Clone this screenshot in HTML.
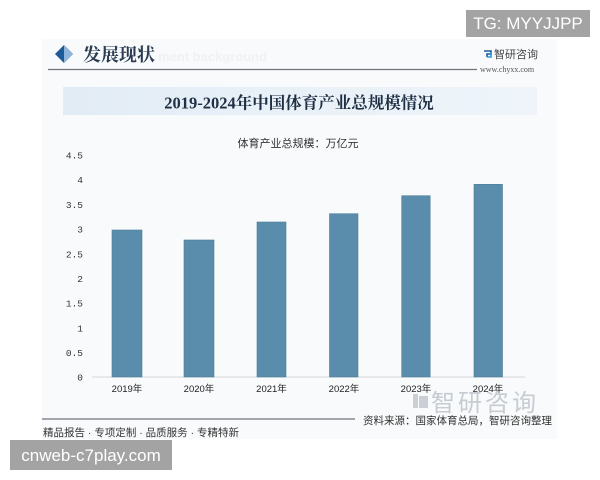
<!DOCTYPE html>
<html><head><meta charset="utf-8"><style>
html,body{margin:0;padding:0;background:#fff;}
body{width:600px;height:480px;overflow:hidden;position:relative;}
svg{position:absolute;left:0;top:0;}
</style></head><body>
<svg width="600" height="480" viewBox="0 0 600 480" xmlns="http://www.w3.org/2000/svg">
<defs>
<linearGradient id="bn" x1="0" x2="1" y1="0" y2="0">
<stop offset="0" stop-color="#e2ecf5"/><stop offset="0.5" stop-color="#e9f1f8"/><stop offset="1" stop-color="#eef4fa"/>
</linearGradient>
</defs>
<rect x="0" y="0" width="600" height="480" fill="#ffffff"/>
<!-- card -->
<rect x="42" y="39" width="515" height="400" fill="#f8fafb"/>
<!-- TG box -->
<rect x="466" y="10" width="124" height="27" fill="#a3a3a3"/>
<text x="528" y="29" font-family="Liberation Sans, sans-serif" font-size="17" fill="#ffffff" text-anchor="middle">TG: MYYJJPP</text>
<!-- header -->
<polygon points="64,45 73,54 64,63 55,54" fill="#1f5b98"/>
<polygon points="64,45 73,54 64,63" fill="#8fb6da"/>
<text x="83" y="61" font-family="Liberation Serif, 'Noto Serif CJK SC', serif" font-size="18" font-weight="bold" fill="#2b3c52">发展现状</text>
<text x="158" y="61" font-family="Liberation Sans, sans-serif" font-size="13" font-weight="bold" fill="#eff2f5">ment background</text>
<line x1="48" y1="69.5" x2="477" y2="69.5" stroke="#6f757c" stroke-width="1.2"/>
<!-- logo -->
<path d="M484 51 h7 v3 h-4 v3" fill="none" stroke="#1f5b98" stroke-width="1.6"/>
<path d="M491 52 v5 h-4" fill="none" stroke="#2a9ad6" stroke-width="1.6"/>
<text x="494" y="58" font-family="Liberation Sans, 'Noto Sans CJK SC', sans-serif" font-size="11" fill="#444">智研咨询</text>
<text x="480" y="72" font-family="Liberation Serif, serif" font-size="8" fill="#555">www.chyxx.com</text>
<!-- banner -->
<rect x="63" y="87" width="474" height="28" fill="url(#bn)"/>
<text x="299" y="108.5" font-family="Liberation Serif, 'Noto Serif CJK SC', serif" font-size="16.5" font-weight="bold" fill="#1f2f44" text-anchor="middle">2019-2024年中国体育产业总规模情况</text>
<text x="298" y="147" font-family="Liberation Sans, 'Noto Sans CJK SC', sans-serif" font-size="11" fill="#333" text-anchor="middle">体育产业总规模：万亿元</text>
<!-- y labels -->
<g font-family="Liberation Mono, monospace" font-size="9.5" fill="#333" text-anchor="end">
<text x="83" y="158.5">4.5</text>
<text x="83" y="183">4</text>
<text x="83" y="208">3.5</text>
<text x="83" y="232.5">3</text>
<text x="83" y="257.5">2.5</text>
<text x="83" y="282">2</text>
<text x="83" y="306.5">1.5</text>
<text x="83" y="331.5">1</text>
<text x="83" y="356">0.5</text>
<text x="83" y="380.5">0</text>
</g>
<!-- axis -->
<line x1="92" y1="377" x2="525" y2="377" stroke="#d4d6d8" stroke-width="1"/>
<!-- bars -->
<g fill="#5a8dab" stroke="#4f7f9c" stroke-width="0.6">
<rect x="112" y="230" width="30" height="147"/>
<rect x="184" y="240" width="30" height="137"/>
<rect x="257" y="222" width="29" height="155"/>
<rect x="329.5" y="213.7" width="28.5" height="163.3"/>
<rect x="401.7" y="195.7" width="28.5" height="181.3"/>
<rect x="474" y="184.3" width="28.5" height="192.7"/>
</g>
<!-- x labels -->
<g font-family="Liberation Sans, 'Noto Sans CJK SC', sans-serif" font-size="9.5" fill="#222" text-anchor="middle">
<text x="127" y="392">2019年</text>
<text x="199" y="392">2020年</text>
<text x="271.5" y="392">2021年</text>
<text x="344" y="392">2022年</text>
<text x="416" y="392">2023年</text>
<text x="488" y="392">2024年</text>
</g>
<!-- watermark logo -->
<g fill="#c9cfd5">
<rect x="413" y="394" width="5" height="14"/>
<rect x="419" y="396" width="9" height="12"/>
</g>
<text x="431" y="411" font-family="Liberation Sans, 'Noto Sans CJK SC', sans-serif" font-size="24" fill="#c6ccd2" letter-spacing="3">智研咨询</text>
<!-- footer -->
<line x1="42" y1="419" x2="355" y2="419" stroke="#6f757c" stroke-width="1.2"/>
<text x="363" y="424" font-family="Liberation Sans, 'Noto Sans CJK SC', sans-serif" font-size="10.5" fill="#333">资料来源：国家体育总局，智研咨询整理</text>
<text x="43" y="436" font-family="Liberation Sans, 'Noto Sans CJK SC', sans-serif" font-size="10.5" fill="#333">精品报告 · 专项定制 · 品质服务 · 专精特新</text>
<!-- cnweb box -->
<rect x="10" y="440" width="162" height="30" fill="#a3a3a3"/>
<text x="91" y="461" font-family="Liberation Sans, sans-serif" font-size="17" fill="#ffffff" text-anchor="middle">cnweb-c7play.com</text>
</svg>
</body></html>
